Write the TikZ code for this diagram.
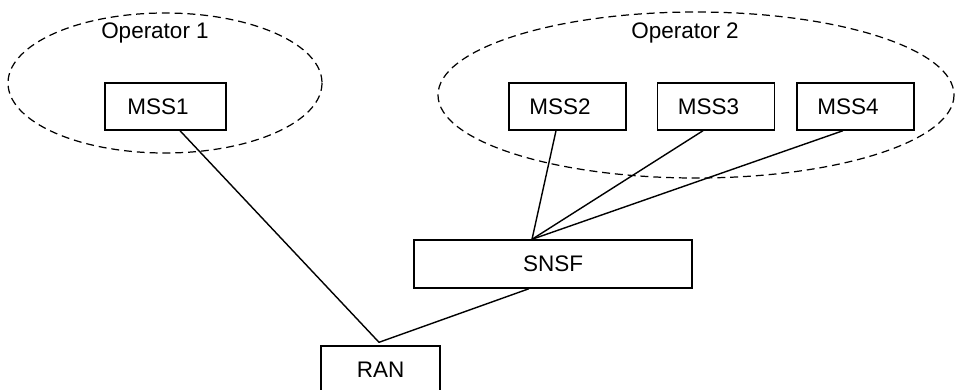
\documentclass[tikz,border=0pt]{standalone}
\usepackage{fontspec}
\setmainfont{Liberation Sans}
\usetikzlibrary{calc}

\begin{document}
\begin{tikzpicture}[
    x=0.02cm, y=-0.02cm, font=\fontsize{12.8}{15}\selectfont,
    box/.style={draw, line width=0.8pt, inner sep=0pt,
                minimum width=117*0.02cm, minimum height=47*0.02cm},
    mss/.style={box, execute at end node={\hspace{0.3cm}}},
    oper/.style={draw, line width=0.7pt, dash pattern=on 4.5pt off 2.8pt},
    link/.style={line width=0.8pt},
    lbl/.style={inner sep=1pt},
]
\useasboundingbox (0,0) rectangle (969,389);
\clip (0,0) rectangle (969,389);

% ===========================================================================
% Operadores (zonas discontinuas)
% ===========================================================================
\draw[oper] (165,83) ellipse [x radius=157, y radius=70];
\node[lbl] (op1) at (155,33) {Operator 1};

\draw[oper] (696,95) ellipse [x radius=258, y radius=83];
\node[lbl] (op2) at (685,33) {Operator 2};

% ----- MSS -----
\node[mss, minimum width=121*0.02cm] (mss1) at (165.5,106.5) {MSS1};
\node[mss] (mss2) at (567.5,106.5) {MSS2};
\node[mss] (mss3) at (716,106.5) {MSS3};
\node[mss] (mss4) at (855.5,106.5) {MSS4};

% ----- SNSF y RAN -----
\node[box, minimum width=278*0.02cm, minimum height=48*0.02cm] (snsf) at (553,264) {SNSF};
\node[box, minimum width=119*0.02cm] (ran) at (380.5,369.5) {RAN};

% ===========================================================================
% Enlaces
% ===========================================================================
\coordinate (hub) at ($(snsf.north)+(-21,0)$);
\coordinate (ranin) at ($(ran.north)+(-1.5,-3)$);

\draw[link] ($(mss1.south)+(14.5,0)$) -- (ranin);
\draw[link] ($(mss2.south)+(-11.5,0)$) -- (hub);
\draw[link] ($(mss3.south)+(-13,0)$) -- (hub);
\draw[link] ($(mss4.south)+(-12.5,0)$) -- (hub);
\draw[link] ($(snsf.south)+(-24,0)$) -- (ranin);

\end{tikzpicture}
\end{document}
